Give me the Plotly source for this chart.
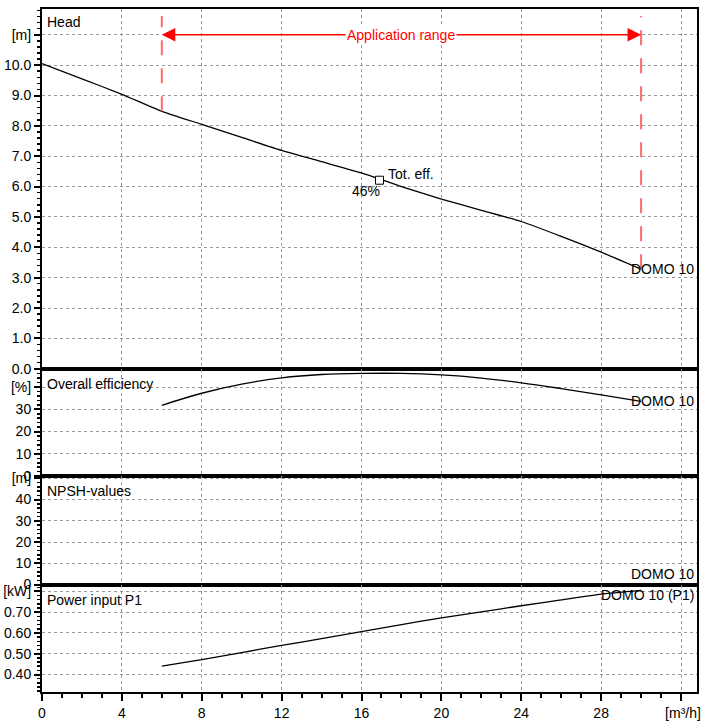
import numpy as np
import plotly.graph_objects as go

# ---------------- data ----------------
flow_head = [0, 2, 4, 6, 8, 10, 12, 14, 16, 18, 20, 22, 24, 26, 28, 30]
head_m = [10.05, 9.55, 9.04, 8.48, 8.05, 7.62, 7.19, 6.82, 6.45, 6.00,
          5.59, 5.22, 4.85, 4.36, 3.84, 3.28]

flow_op = [6, 8, 10, 12, 14, 16, 18, 20, 22, 24, 26, 28, 30]
eff_pct = [31.8, 37.2, 41.3, 44.1, 45.6, 46.1, 46.1, 45.4, 44.0, 41.9, 39.3, 36.5, 33.6]
power_kw = [0.440, 0.472, 0.506, 0.540, 0.573, 0.607, 0.640, 0.673, 0.702,
            0.731, 0.759, 0.787, 0.805]

npsh_flow = []
npsh_m = []

app_range = [6, 30]
app_label_level = 11.0
bep_flow = 16.9
bep_head = 6.21
bep_eff_label = "46%"

curve_name = "DOMO 10"
power_name = "DOMO 10 (P1)"

x_ticks = [0, 4, 8, 12, 16, 20, 24, 28, 32]
x_ticktext = ["0", "4", "8", "12", "16", "20", "24", "28", "\u00a0[m³/h]"]

head_ticks = [0, 1, 2, 3, 4, 5, 6, 7, 8, 9, 10, 11]
head_ticktext = ["0.0", "1.0", "2.0", "3.0", "4.0", "5.0", "6.0", "7.0",
                 "8.0", "9.0", "10.0", "[m]"]
eff_ticks = [0, 10, 20, 30, 40]
eff_ticktext = ["0", "10", "20", "30", "[%]"]
npsh_ticks = [0, 10, 20, 30, 40, 50]
npsh_ticktext = ["0", "10", "20", "30", "40", "[m]"]
power_ticks = [0.4, 0.5, 0.6, 0.7, 0.8]
power_ticktext = ["0.40", "0.50", "0.60", "0.70", "[kW]"]

panel_titles = ["Head", "Overall efficiency", "NPSH-values", "Power input P1"]
title_shift = [-3, -5, -5, -5]

# ---------------- styling ----------------
FONT = "Liberation Sans, Arial, sans-serif"
FS = 14
W, H = 704, 724
ML, MR, MT, MB = 41, 7, 3, 28
# panel boundaries in pixels (top of figure = 0)
bounds = [3, 368, 477, 587, 696]
plot_h = bounds[-1] - bounds[0]


def dom(top_px, bot_px):
    return [(bounds[-1] - bot_px) / plot_h, (bounds[-1] - top_px) / plot_h]


GRID = dict(showgrid=True, gridcolor="#9a9a9a", griddash="dot", gridwidth=1)
LINE = dict(showline=True, linecolor="black", linewidth=2, mirror=True)

fig = go.Figure()

curve = dict(color="black", width=1.3)
fig.add_trace(go.Scatter(x=flow_head, y=head_m, mode="lines", line=dict(**curve, shape="spline", smoothing=0.5),
                         xaxis="x", yaxis="y", hoverinfo="skip"))
fig.add_trace(go.Scatter(x=flow_op, y=eff_pct, mode="lines", line=dict(**curve, shape="spline", smoothing=1.0),
                         xaxis="x2", yaxis="y2", hoverinfo="skip"))
fig.add_trace(go.Scatter(x=npsh_flow, y=npsh_m, mode="lines", line=curve,
                         xaxis="x3", yaxis="y3", hoverinfo="skip"))
fig.add_trace(go.Scatter(x=flow_op, y=power_kw, mode="lines", line=dict(**curve, shape="spline", smoothing=0.5),
                         xaxis="x4", yaxis="y4", hoverinfo="skip"))

# best efficiency point marker
fig.add_trace(go.Scatter(x=[bep_flow], y=[bep_head], mode="markers",
                         marker=dict(symbol="square", size=8, color="white",
                                     line=dict(color="black", width=1)),
                         xaxis="x", yaxis="y", hoverinfo="skip"))

xr = [0, 32.8]
yranges = [[0, 11.85], [0, 48.2], [0, 51], [0.316, 0.833]]
yticks = [(head_ticks, head_ticktext, 0.2), (eff_ticks, eff_ticktext, 2),
          (npsh_ticks, npsh_ticktext, 2), (power_ticks, power_ticktext, 0.02)]

layout = dict(
    width=W, height=H,
    margin=dict(l=ML, r=MR, t=MT, b=MB, pad=0),
    paper_bgcolor="white", plot_bgcolor="white",
    showlegend=False,
    font=dict(family=FONT, size=FS, color="black"),
)

for i in range(4):
    sfx = "" if i == 0 else str(i + 1)
    d = dom(bounds[i], bounds[i + 1])
    tv, tt, mdt = yticks[i]
    layout["yaxis" + sfx] = dict(
        domain=d, range=yranges[i], anchor="x" + sfx, fixedrange=True,
        tickmode="array", tickvals=tv, ticktext=tt,
        ticks="outside", ticklen=6, tickwidth=2, tickcolor="black",
        tickfont=dict(family=FONT, size=FS, color="black"),
        ticklabeloverflow="allow",
        minor=dict(ticks="outside", ticklen=3, tickwidth=1.5, tickcolor="black",
                   tick0=0, dtick=mdt, showgrid=False),
        zeroline=False, **GRID, **LINE)
    xa = dict(domain=[0, 1], range=xr, anchor="y" + sfx, fixedrange=True,
              tickmode="array", tickvals=x_ticks, ticktext=x_ticktext,
              zeroline=False, **GRID, **LINE)
    if i < 3:
        xa.update(showticklabels=False, ticks="")
        xa["matches"] = "x4"
    else:
        xa.update(ticks="outside", ticklen=7, tickwidth=2, tickcolor="black",
                  tickfont=dict(family=FONT, size=FS, color="black"),
                  ticklabeloverflow="allow",
                  minor=dict(ticks="outside", ticklen=4, tickwidth=2, tickcolor="black",
                             tick0=0, dtick=1, showgrid=False))
    layout["xaxis" + sfx] = xa

fig.update_layout(**layout)

# panel titles
for i, t in enumerate(panel_titles):
    sfx = "" if i == 0 else str(i + 1)
    fig.add_annotation(text=t, xref="paper", x=0, xanchor="left", xshift=3,
                       yref="y" + sfx + " domain", y=1, yanchor="top", yshift=title_shift[i],
                       showarrow=False, font=dict(family=FONT, size=FS, color="black"))

# curve end labels (right-aligned to the plot edge)
fig.add_annotation(text=curve_name, xref="paper", x=1, xanchor="right", xshift=-1,
                   yref="y", y=head_m[-1], yanchor="middle", showarrow=False)
fig.add_annotation(text=curve_name, xref="paper", x=1, xanchor="right", xshift=-1,
                   yref="y2", y=eff_pct[-1], yanchor="middle", showarrow=False)
fig.add_annotation(text=curve_name, xref="paper", x=1, xanchor="right", xshift=-1,
                   yref="y3 domain", y=0, yanchor="bottom", yshift=1, showarrow=False)
fig.add_annotation(text=power_name, xref="paper", x=1, xanchor="right", xshift=-1,
                   yref="y4", y=power_kw[-1], yanchor="middle", yshift=-5, showarrow=False)

# best efficiency point labels
fig.add_annotation(text="Tot. eff.", x=bep_flow, y=bep_head, xref="x", yref="y",
                   xanchor="left", yanchor="middle", xshift=7, yshift=6, showarrow=False)
fig.add_annotation(text=bep_eff_label, x=bep_flow, y=bep_head, xref="x", yref="y",
                   xanchor="right", yanchor="middle", xshift=3, yshift=-11, showarrow=False)

# application range: dashed limits + double arrow
RED = "#ff0000"
DASH_RED = "#ff6b6b"
for xv in app_range:
    yb = float(np.interp(xv, flow_head, head_m))
    fig.add_shape(type="line", xref="x", yref="y", x0=xv, x1=xv, y0=yb, y1=11.62,
                  line=dict(color=DASH_RED, width=2, dash="15px,13px"))

mid = (app_range[0] + app_range[1]) / 2
for xv in app_range:
    fig.add_annotation(x=xv, y=app_label_level, ax=mid, ay=app_label_level,
                       xref="x", yref="y", axref="x", ayref="y", text="",
                       showarrow=True, arrowhead=2, arrowsize=1.8, arrowwidth=1.5,
                       arrowcolor=RED, standoff=0)
fig.add_annotation(text="Application range", x=mid, y=app_label_level, xref="x", yref="y",
                   showarrow=False, bgcolor="white", font=dict(family=FONT, size=FS, color=RED))

fig.write_html(
    "out.html",
    config={"displayModeBar": False, "staticPlot": True},
    post_script="document.body.style.margin='0';document.body.style.padding='0';"
                "document.body.style.overflow='hidden';",
)
